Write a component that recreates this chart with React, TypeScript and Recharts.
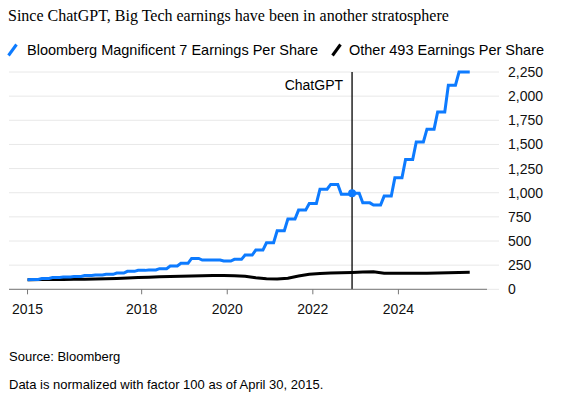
import {
  CartesianGrid,
  Line,
  LineChart,
  ReferenceDot,
  ReferenceLine,
  XAxis,
  YAxis,
} from 'recharts'

// month-end of April 2015, the normalization date
const START = 2015 + 4 / 12
const CHATGPT = 2022 + 11 / 12

// quarterly EPS index, period 0 = Apr 2015, then 3-month periods (new value at Feb/May/Aug/Nov month end)
const mag7Eps = [
  100, 102, 112, 122, 127, 132, 142, 148, 155, 168, 186, 196, 200, 214, 241,
  269, 320, 303, 303, 293, 310, 355, 406, 482, 606, 727, 820, 889, 1037, 1086,
  985, 995, 895, 872, 965, 1154, 1344, 1526, 1658, 1837, 2113, 2250, 2250,
]
const other493Eps = [
  100, 100, 101, 101, 102, 103, 105, 107, 110, 113, 117, 121, 125, 129, 133,
  136, 139, 141, 142, 142, 141, 136, 120, 110, 106, 115, 138, 155, 163, 168,
  171, 175, 178, 181, 167, 165, 165, 165, 166, 168, 171, 174, 176,
]
const MONTHS = 125 // Apr 2015 .. Aug 2025

const xTicks = [START, 2018, 2020, 2022, 2024]
const yTicks = [0, 250, 500, 750, 1000, 1250, 1500, 1750, 2000, 2250]

const BLUE = '#0d7bff'
const SANS = "'Liberation Sans', Arial, sans-serif"

const periodStart = (p: number) => (p === 0 ? 0 : 3 * p - 2)

const mag7Rows = Array.from({ length: MONTHS }, (_, k) => ({
  t: START + k / 12,
  v: mag7Eps[Math.ceil(k / 3)],
}))
const otherRows = other493Eps.map((v, p) => ({ t: START + periodStart(p) / 12, v }))

function Slash({ colour }: { colour: string }) {
  return (
    <svg width={11} height={14} style={{ display: 'block' }}>
      <line x1={1.5} y1={12.5} x2={9.5} y2={1.5} stroke={colour} strokeWidth={3} />
    </svg>
  )
}

export default function App() {
  return (
    <div
      style={{
        position: 'absolute',
        left: 0,
        top: 0,
        width: 577,
        height: 399,
        background: '#fff',
        fontFamily: SANS,
        color: '#000',
      }}
    >
      <div
        style={{
          position: 'absolute',
          left: 8,
          top: 7,
          fontFamily: "'Liberation Serif', 'Times New Roman', serif",
          fontSize: 16,
          whiteSpace: 'nowrap',
        }}
      >
        Since ChatGPT, Big Tech earnings have been in another stratosphere
      </div>

      <div style={{ position: 'absolute', left: 7, top: 42, display: 'flex', alignItems: 'center', gap: 9, fontSize: 14.5 }}>
        <Slash colour={BLUE} />
        <span>Bloomberg Magnificent 7 Earnings Per Share</span>
      </div>
      <div style={{ position: 'absolute', left: 331, top: 42, display: 'flex', alignItems: 'center', gap: 7, fontSize: 14.5 }}>
        <Slash colour="#000" />
        <span>Other 493 Earnings Per Share</span>
      </div>

      <div style={{ position: 'absolute', left: 0, top: 0 }}>
        <LineChart
          width={577}
          height={330}
          margin={{ top: 72, right: 30, bottom: 10.7, left: 9 }}
        >
          <CartesianGrid vertical={false} stroke="#e8e8e8" strokeWidth={1} />
          <XAxis
            type="number"
            dataKey="t"
            domain={[2014.9, 2026.07]}
            allowDataOverflow
            ticks={xTicks}
            tickFormatter={(v: number) => String(Math.floor(v + 0.01))}
            height={30}
            stroke="#777"
            tickSize={5}
            tickMargin={10}
            tick={{ fontSize: 14, fill: '#111', fontFamily: SANS }}
          />
          <YAxis
            orientation="right"
            domain={[0, 2250]}
            ticks={yTicks}
            width={60}
            axisLine={false}
            tickLine={{ stroke: '#e8e8e8' }}
            tickSize={12}
            tickMargin={9}
            tickFormatter={(v: number) => v.toLocaleString('en-US')}
            tick={{ fontSize: 14, fill: '#111', fontFamily: SANS, textAnchor: 'start' }}
          />
          <ReferenceLine
            x={CHATGPT}
            stroke="#000"
            strokeWidth={1.3}
            label={(props: any) => {
              const vb = props?.viewBox ?? {}
              return (
                <text
                  x={Number(vb.x ?? 0) - 9}
                  y={Number(vb.y ?? 0) + 18}
                  textAnchor="end"
                  style={{ fontSize: 14, fill: '#000', fontFamily: SANS }}
                >
                  ChatGPT
                </text>
              )
            }}
          />
          <Line
            data={otherRows}
            dataKey="v"
            type="linear"
            stroke="#000"
            strokeWidth={3}
            dot={false}
            isAnimationActive={false}
          />
          <Line
            data={mag7Rows}
            dataKey="v"
            type="linear"
            stroke={BLUE}
            strokeWidth={3}
            dot={false}
            isAnimationActive={false}
          />
          <ReferenceDot x={CHATGPT} y={995} r={4} fill={BLUE} stroke="none" />
        </LineChart>
      </div>

      <div style={{ position: 'absolute', left: 9, top: 349, fontSize: 13 }}>Source: Bloomberg</div>
      <div style={{ position: 'absolute', left: 9, top: 377, fontSize: 13 }}>
        Data is normalized with factor 100 as of April 30, 2015.
      </div>
    </div>
  )
}
